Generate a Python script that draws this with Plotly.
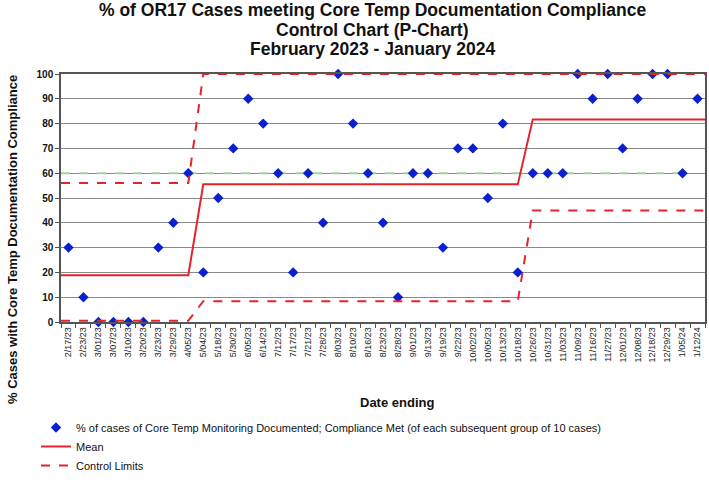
import plotly.graph_objects as go

dates = ["2/17/23", "2/23/23", "3/01/23", "3/07/23", "3/10/23", "3/20/23", "3/23/23", "3/29/23",
         "4/05/23", "5/04/23", "5/18/23", "5/30/23", "6/05/23", "6/14/23", "7/12/23", "7/17/23",
         "7/21/23", "7/28/23", "8/03/23", "8/10/23", "8/16/23", "8/23/23", "8/28/23", "9/01/23",
         "9/13/23", "9/19/23", "9/22/23", "10/02/23", "10/05/23", "10/13/23", "10/18/23", "10/26/23",
         "10/31/23", "11/03/23", "11/09/23", "11/16/23", "11/27/23", "12/01/23", "12/08/23",
         "12/18/23", "12/29/23", "1/05/24", "1/12/24"]

compliance = [30, 10, 0, 0, 0, 0, 30, 40, 60, 20, 50, 70, 90, 80, 60, 20, 60, 40, 100, 80, 60,
              40, 10, 60, 60, 30, 70, 70, 50, 80, 20, 60, 60, 60, 100, 90, 100, 70, 90, 100, 100,
              60, 90]

mean = [18.9, 18.9, 18.9, 18.9, 18.9, 18.9, 18.9, 18.9, 18.9,
        55.5, 55.5, 55.5, 55.5, 55.5, 55.5, 55.5, 55.5, 55.5, 55.5, 55.5,
        55.5, 55.5, 55.5, 55.5, 55.5, 55.5, 55.5, 55.5, 55.5, 55.5, 55.5,
        81.7, 81.7, 81.7, 81.7, 81.7, 81.7, 81.7, 81.7, 81.7, 81.7, 81.7, 81.7]

ucl = [56, 56, 56, 56, 56, 56, 56, 56, 56,
       100, 100, 100, 100, 100, 100, 100, 100, 100, 100, 100,
       100, 100, 100, 100, 100, 100, 100, 100, 100, 100, 100,
       100, 100, 100, 100, 100, 100, 100, 100, 100, 100, 100, 100]

lcl = [0.5, 0.5, 0.5, 0.5, 0.5, 0.5, 0.5, 0.5, 0.5,
       8.4, 8.4, 8.4, 8.4, 8.4, 8.4, 8.4, 8.4, 8.4, 8.4, 8.4,
       8.4, 8.4, 8.4, 8.4, 8.4, 8.4, 8.4, 8.4, 8.4, 8.4, 8.4,
       45, 45, 45, 45, 45, 45, 45, 45, 45, 45, 45, 45]

# target line (green dashed) runs through 1/05/24
target = [60] * (len(dates) - 1)

y_ticks = [0, 10, 20, 30, 40, 50, 60, 70, 80, 90, 100]

title_lines = ["% of OR17 Cases meeting Core Temp Documentation Compliance",
               "Control Chart (P-Chart)",
               "February 2023 - January 2024"]

FONT = "Liberation Sans, Arial, sans-serif"
RED = "#e3242b"
BLUE = "#0a1fd0"
GREEN = "#9fd39a"

W, H = 709, 486
ML, MR, MT, MB = 61, 4, 74, 164
PW, PH = W - ML - MR, H - MT - MB


def px_x(x):
    # page pixel -> paper fraction
    return (x - ML) / PW


def px_y(y):
    return (H - MB - y) / PH


idx = list(range(len(dates)))
ext_x = [idx[0] - 0.5] + idx + [idx[-1] + 0.5]


def ext(v):
    return [v[0]] + list(v) + [v[-1]]


fig = go.Figure()

fig.add_trace(go.Scatter(x=[idx[0] - 0.5] + idx[:len(target)], y=[target[0]] + target,
                         mode="lines", line=dict(color=GREEN, width=2, dash="dash"),
                         showlegend=False, hoverinfo="skip"))

fig.add_trace(go.Scatter(x=idx, y=compliance, mode="markers",
                         marker=dict(symbol="diamond", size=8, color=BLUE),
                         cliponaxis=False,
                         name="% of cases of Core Temp Monitoring Documented; Compliance Met (of each subsequent group of 10 cases)"))

fig.add_trace(go.Scatter(x=ext_x, y=ext(mean), mode="lines",
                         line=dict(color=RED, width=2), name="Mean"))

fig.add_trace(go.Scatter(x=ext_x, y=ext(ucl), mode="lines",
                         line=dict(color=RED, width=2, dash="dash"), name="Control Limits"))

fig.add_trace(go.Scatter(x=ext_x, y=ext(lcl), mode="lines",
                         line=dict(color=RED, width=2, dash="dash"), showlegend=False))

annotations = []
for line, ypx in zip(title_lines, [10, 30, 49]):
    annotations.append(dict(text="<b>" + line + "</b>", xref="paper", yref="paper",
                            x=px_x(372), y=px_y(ypx), xanchor="center", yanchor="middle",
                            showarrow=False, font=dict(size=17.5, family=FONT, color="#111111")))

annotations.append(dict(text="<b>% Cases with Core Temp Documentation Compliance</b>",
                        xref="paper", yref="paper", x=px_x(12), y=px_y(240),
                        xanchor="center", yanchor="middle", textangle=-90, showarrow=False,
                        font=dict(size=13, family=FONT, color="#111111")))

annotations.append(dict(text="<b>Date ending</b>", xref="paper", yref="paper",
                        x=px_x(397), y=px_y(402), xanchor="center", yanchor="middle",
                        showarrow=False, font=dict(size=13, family=FONT, color="#111111")))

fig.update_layout(
    width=W, height=H,
    paper_bgcolor="white", plot_bgcolor="white",
    margin=dict(l=ML, r=MR, t=MT, b=MB),
    font=dict(family=FONT, color="black"),
    showlegend=True,
    legend=dict(x=px_x(36), xanchor="left", y=px_y(413), yanchor="top",
                font=dict(size=11, family=FONT, color="#111111"), tracegroupgap=0,
                bgcolor="rgba(0,0,0,0)"),
    annotations=annotations,
)

fig.update_xaxes(
    range=[-0.5, len(dates) - 0.5], automargin=False,
    tickmode="array", tickvals=idx, ticktext=dates, tickangle=-90,
    tickfont=dict(size=9, family=FONT, color="#222222"),
    ticks="", showgrid=False, zeroline=False,
    showline=True, linecolor="#555555", linewidth=1.5, mirror=True,
    minor=dict(tickmode="linear", tick0=0.5, dtick=1, ticks="outside", ticklen=4,
               tickcolor="#555555", showgrid=False),
)

fig.update_yaxes(
    range=[0, 100], automargin=False, tickmode="array", tickvals=y_ticks,
    tickfont=dict(size=10, family=FONT, color="#111111", weight="bold"),
    ticks="outside", ticklen=4, tickcolor="#555555",
    showgrid=True, gridcolor="#8a8a8a", gridwidth=1, zeroline=False,
    showline=True, linecolor="#555555", linewidth=1.5, mirror=True,
)

fig.write_html("out.html", config={"displayModeBar": False},
               post_script="document.body.style.margin='0';document.body.style.overflow='hidden';")
